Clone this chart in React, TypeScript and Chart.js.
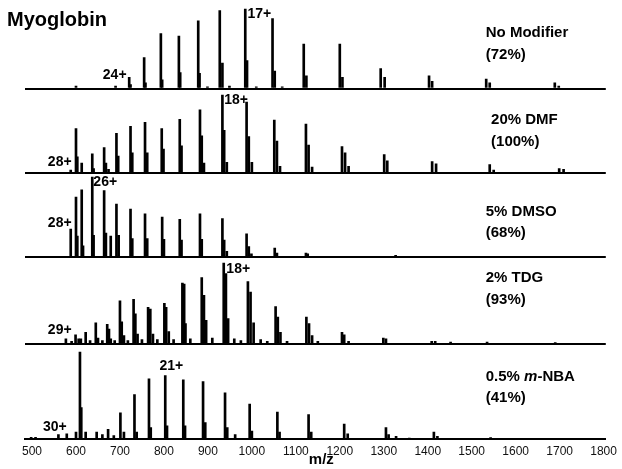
import { useEffect, useRef } from 'react';
import { Chart, registerables } from 'chart.js';

Chart.register(...registerables);

// ---- x axis ticks (m/z) ----
const xTicks = [500, 600, 700, 800, 900, 1000, 1100, 1200, 1300, 1400, 1500, 1600, 1700, 1800];

// ---- Panel 1: No Modifier ----
const noModMz = [600, 690, 721, 724, 755, 758, 793, 796, 834, 837, 878, 881, 899, 927, 933, 949, 985, 989, 1010, 1047, 1052, 1069, 1118, 1124, 1200, 1206, 1293, 1302, 1403, 1410, 1533, 1541, 1689, 1698];
const noModInt = [3, 3, 14, 5, 39, 7, 69, 11, 66, 20, 85, 19, 2, 98, 32, 3, 100, 35, 2, 88, 22, 2, 56, 16, 56, 14, 25, 14, 16, 9, 12, 7, 7, 3];

// ---- Panel 2: 20% DMF ----
const dmfMz = [588, 600, 603, 613, 637, 640, 664, 668, 674, 692, 696, 724, 728, 757, 762, 795, 799, 836, 840, 882, 886, 891, 933, 937, 943, 988, 993, 1000, 1051, 1057, 1064, 1123, 1129, 1137, 1205, 1212, 1220, 1301, 1308, 1410, 1419, 1541, 1550, 1699, 1709];
const dmfInt = [4, 57, 21, 13, 25, 6, 33, 13, 5, 51, 22, 60, 26, 65, 26, 57, 31, 69, 35, 81, 48, 13, 100, 55, 14, 91, 47, 14, 68, 41, 9, 63, 36, 8, 34, 26, 9, 24, 16, 15, 12, 11, 4, 6, 5];

// ---- Panel 3: 5% DMSO ----
const dmsoMz = [588, 600, 603, 613, 616, 637, 640, 664, 668, 679, 692, 697, 724, 728, 757, 762, 796, 800, 836, 840, 882, 886, 933, 937, 943, 988, 993, 999, 1052, 1057, 1123, 1127, 1327];
const dmsoInt = [35, 75, 26, 84, 14, 100, 27, 83, 30, 26, 66, 27, 60, 23, 54, 23, 50, 22, 47, 21, 54, 22, 48, 21, 7, 29, 13, 4, 11, 5, 5, 4, 2];

// ---- Panel 4: 2% TDG ----
const tdgMz = [577, 590, 599, 606, 611, 622, 632, 645, 650, 660, 671, 675, 679, 688, 700, 704, 709, 718, 731, 735, 740, 750, 764, 769, 775, 785, 801, 805, 811, 822, 842, 846, 849, 860, 886, 891, 896, 910, 936, 941, 946, 960, 975, 991, 997, 1004, 1020, 1035, 1054, 1059, 1065, 1080, 1124, 1130, 1137, 1150, 1205, 1210, 1220, 1299, 1305, 1409, 1417, 1452, 1535, 1690];
const tdgInt = [6, 3, 11, 6, 6, 14, 4, 26, 7, 4, 24, 18, 6, 4, 53, 27, 10, 4, 55, 37, 12, 5, 45, 43, 12, 5, 50, 45, 15, 5, 75, 74, 25, 6, 82, 60, 29, 7, 100, 87, 31, 6, 4, 77, 64, 26, 5, 3, 46, 33, 14, 3, 33, 25, 10, 3, 14, 11, 3, 7, 6, 3, 3, 2, 2, 1];

// ---- Panel 5: 0.5% m-NBA ----
const nbaMz = [498, 508, 560, 579, 600, 609, 612, 622, 647, 660, 673, 686, 701, 709, 733, 738, 766, 770, 803, 807, 844, 848, 889, 894, 939, 944, 962, 995, 1000, 1058, 1063, 1129, 1135, 1210, 1218, 1305, 1311, 1328, 1358, 1414, 1422, 1543];
const nbaInt = [2, 2, 5, 6, 8, 100, 36, 8, 8, 5, 11, 4, 30, 8, 51, 8, 69, 13, 73, 15, 68, 15, 66, 19, 53, 13, 5, 40, 9, 31, 8, 28, 8, 17, 6, 13, 5, 3, 1, 8, 3, 1.5];

const panelIds = ['p1', 'p2', 'p3', 'p4', 'p5'];
const panelMz = [noModMz, dmfMz, dmsoMz, tdgMz, nbaMz];
const panelInt = [noModInt, dmfInt, dmsoInt, tdgInt, nbaInt];
const panelMax = [106.3, 108.3, 104.6, 107.4, 109.5];
const panelWeight = [84.5, 84.8, 83.7, 86.7, 95.3];

const FONT = "'Liberation Sans', Arial, Helvetica, sans-serif";

type Part = { t: string; italic?: boolean };
type Label = { axis: string; mz: number; v: number; parts: Part[]; size: number };

const labels: Label[] = [
  { axis: 'p1', mz: 443, v: 85, parts: [{ t: 'Myoglobin' }], size: 20 },
  { axis: 'p1', mz: 661, v: 17, parts: [{ t: '24+' }], size: 14 },
  { axis: 'p1', mz: 990, v: 94, parts: [{ t: '17+' }], size: 14 },
  { axis: 'p1', mz: 1532, v: 70, parts: [{ t: 'No Modifier' }], size: 15 },
  { axis: 'p1', mz: 1532, v: 42, parts: [{ t: '(72%)' }], size: 15 },
  { axis: 'p2', mz: 536, v: 14.4, parts: [{ t: '28+' }], size: 14 },
  { axis: 'p2', mz: 937, v: 93.6, parts: [{ t: '18+' }], size: 14 },
  { axis: 'p2', mz: 1544, v: 68, parts: [{ t: '20% DMF' }], size: 15 },
  { axis: 'p2', mz: 1544, v: 40, parts: [{ t: '(100%)' }], size: 15 },
  { axis: 'p3', mz: 536, v: 42.5, parts: [{ t: '28+' }], size: 14 },
  { axis: 'p3', mz: 639.5, v: 93.7, parts: [{ t: '26+' }], size: 14 },
  { axis: 'p3', mz: 1532, v: 56.2, parts: [{ t: '5% DMSO' }], size: 15 },
  { axis: 'p3', mz: 1532, v: 30, parts: [{ t: '(68%)' }], size: 15 },
  { axis: 'p4', mz: 536, v: 17, parts: [{ t: '29+' }], size: 14 },
  { axis: 'p4', mz: 942, v: 92.5, parts: [{ t: '18+' }], size: 14 },
  { axis: 'p4', mz: 1532, v: 81.4, parts: [{ t: '2% TDG' }], size: 15 },
  { axis: 'p4', mz: 1532, v: 54.1, parts: [{ t: '(93%)' }], size: 15 },
  { axis: 'p5', mz: 525, v: 13.8, parts: [{ t: '30+' }], size: 14 },
  { axis: 'p5', mz: 790, v: 83.9, parts: [{ t: '21+' }], size: 14 },
  { axis: 'p5', mz: 1532, v: 71.2, parts: [{ t: '0.5% ' }, { t: 'm', italic: true }, { t: '-NBA' }], size: 15 },
  { axis: 'p5', mz: 1532, v: 47.1, parts: [{ t: '(41%)' }], size: 15 },
];

const textPlugin = {
  id: 'spectraText',
  afterDraw(chart: any) {
    const ctx = chart.ctx as CanvasRenderingContext2D;
    const xs = chart.scales.x;
    ctx.save();
    ctx.fillStyle = '#000';
    ctx.textBaseline = 'middle';
    ctx.textAlign = 'left';
    for (const l of labels) {
      const ys = chart.scales[l.axis];
      let px = xs.getPixelForValue(l.mz);
      const py = ys.getPixelForValue(l.v);
      for (const p of l.parts) {
        ctx.font = `${p.italic ? 'italic ' : ''}bold ${l.size}px ${FONT}`;
        ctx.fillText(p.t, px, py);
        px += ctx.measureText(p.t).width;
      }
    }
    // axis title "m/z"
    ctx.font = `bold 15px ${FONT}`;
    ctx.textAlign = 'center';
    ctx.fillText('m/z', xs.getPixelForValue(1158), chart.chartArea.bottom + 21);
    ctx.restore();
  },
};

export default function App() {
  const ref = useRef<HTMLCanvasElement>(null);
  useEffect(() => {
    document.body.style.margin = '0';
    const datasets = panelIds.map((id, k) => ({
      type: 'bar' as const,
      label: id,
      data: panelMz[k].map((x, i) => ({ x, y: panelInt[k][i] })),
      yAxisID: id,
      xAxisID: 'x',
      backgroundColor: '#000',
      borderWidth: 0,
      barThickness: 2,
      grouped: false,
    }));

    const scales: any = {};
    // define bottom panel first: left stacked boxes are placed in reverse order
    for (let k = panelIds.length - 1; k >= 0; k--) {
      scales[panelIds[k]] = {
        type: 'linear',
        position: 'left',
        stack: 'spectra',
        stackWeight: panelWeight[k],
        min: 0,
        max: panelMax[k],
        display: true,
        ticks: { display: false },
        border: { display: false },
        grid: {
          drawTicks: false,
          lineWidth: 2,
          color: (c: any) => (c.tick && c.tick.value === 0 ? '#000' : 'rgba(0,0,0,0)'),
        },
      };
    }
    scales.x = {
      type: 'linear',
      position: 'bottom',
      min: 484,
      max: 1805,
      offset: false,
      grid: { display: false, drawTicks: false, offset: false },
      border: { display: true, color: '#000', width: 2 },
      ticks: {
        autoSkip: false,
        maxRotation: 0,
        padding: 5,
        color: '#111',
        font: { family: FONT, size: 12 },
        callback: (v: any) => String(v),
      },
      afterBuildTicks: (axis: any) => {
        axis.ticks = xTicks.map((v) => ({ value: v }));
      },
      afterFit: (axis: any) => {
        axis.height = 30;
      },
    };

    const chart = new Chart(ref.current!, {
      type: 'bar',
      data: { datasets } as any,
      options: {
        responsive: false,
        animation: false,
        devicePixelRatio: 1,
        layout: { padding: { left: 25, right: 15, top: 4, bottom: 0 } },
        plugins: { legend: { display: false }, tooltip: { enabled: false } },
        scales,
      } as any,
      plugins: [textPlugin],
    });
    return () => chart.destroy();
  }, []);

  return (
    <div style={{ position: 'absolute', left: 0, top: 0, width: 622, height: 469, background: '#fff' }}>
      <canvas ref={ref} width={622} height={469} style={{ display: 'block', width: 622, height: 469 }} />
    </div>
  );
}
